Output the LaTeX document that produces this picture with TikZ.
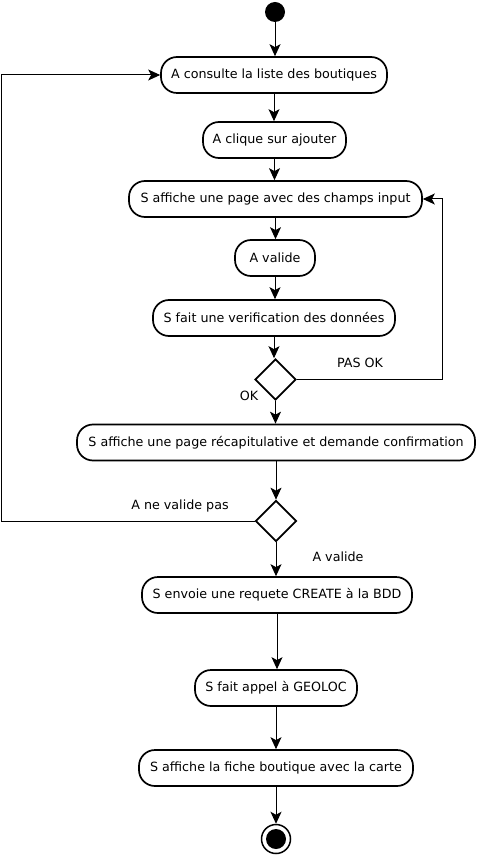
\documentclass[tikz,border=0pt]{standalone}
\usepackage{fontspec}
\setmainfont{DejaVu Sans}
\usetikzlibrary{shapes.geometric,arrows.meta}
\begin{document}
\begin{tikzpicture}[x=1pt,y=-1pt,
  every node/.style={font=\fontsize{12.7}{15}\selectfont},
  act/.style={draw,line width=1.7pt,rounded corners=16pt,minimum height=36pt,inner sep=0pt},
  dec/.style={draw,diamond,line width=1.7pt,minimum width=41pt,minimum height=41pt,inner sep=0pt},
  flow/.style={line width=1pt,-{Stealth[length=12pt,width=11pt,inset=3pt]}},
  lbl/.style={inner sep=0pt}]
\useasboundingbox (0,0) rectangle (477,858);
\node[circle,fill=black,minimum size=20pt,inner sep=0pt] (start) at (275,12) {};
\node[act,minimum width=226pt] (b1) at (274,75) {A consulte la liste des boutiques};
\node[act,minimum width=143pt] (b2) at (274.5,140) {A clique sur ajouter};
\node[act,minimum width=293pt] (b3) at (275.5,199) {S affiche une page avec des champs input};
\node[act,minimum width=80pt] (b4) at (275,258) {A valide};
\node[act,minimum width=242pt] (b5) at (274,318) {S fait une verification des données};
\node[dec] (d1) at (275.5,379.5) {};
\node[act,minimum width=398pt] (b6) at (276,442.5) {S affiche une page récapitulative et demande confirmation};
\node[dec] (d2) at (276,521) {};
\node[act,minimum width=270pt] (b7) at (277,595) {S envoie une requete CREATE à la BDD};
\node[act,minimum width=162pt] (b8) at (276,688) {S fait appel à GEOLOC};
\node[act,minimum width=274pt] (b9) at (276,768) {S affiche la fiche boutique avec la carte};
\node[circle,draw,line width=1.5pt,minimum size=29pt,inner sep=0pt] (end) at (276,839) {};
\node[circle,fill=black,minimum size=20pt,inner sep=0pt] (endin) at (276,839) {};
\node[lbl] (l1) at (360,363) {PAS OK};
\node[lbl] (l2) at (249,396) {OK};
\node[lbl] (l3) at (180,506) {A ne valide pas};
\node[lbl] (l4) at (338,557) {A valide};
\coordinate (r1) at (442,379.5);
\coordinate (r2) at (442,199);
\coordinate (q1) at (1,521);
\coordinate (q2) at (1,75);
\draw[flow] (start) -- (start |- b1.north);
\draw[flow] (b1) -- (b1 |- b2.north);
\draw[flow] (b2) -- (b2 |- b3.north);
\draw[flow] (b3) -- (b3 |- b4.north);
\draw[flow] (b4) -- (b4 |- b5.north);
\draw[flow] (b5) -- (b5 |- d1.north);
\draw[flow] (d1.south) -- (d1.south |- b6.north);
\draw[flow] (d1.east) -- (r1) -- (r2) -- (b3.east);
\draw[flow] (b6) -- (b6 |- d2.north);
\draw[flow] (d2.west) -- (q1) -- (q2) -- (b1.west);
\draw[flow] (d2.south) -- (d2.south |- b7.north);
\draw[flow] (b7) -- (b7 |- b8.north);
\draw[flow] (b8) -- (b8 |- b9.north);
\draw[flow] (b9) -- (b9 |- end.north);
\end{tikzpicture}
\end{document}
